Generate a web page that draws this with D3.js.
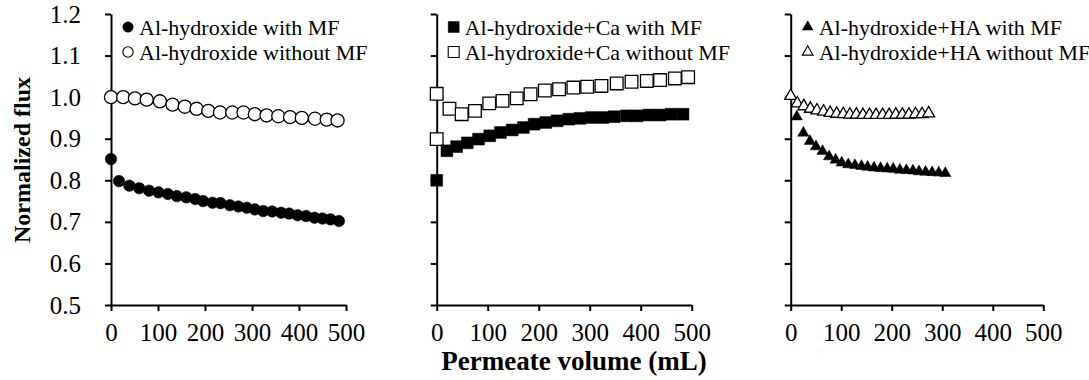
<!DOCTYPE html>
<html>
<head>
<meta charset="utf-8">
<script src="https://cdn.jsdelivr.net/npm/d3@7"></script>
<style>
  body { margin: 0; background: #fff; }
  text { font-family: "Liberation Serif", "Times New Roman", serif; fill: #000; }
</style>
</head>
<body>
<script>
var width = 1089, height = 380;

// panel 1: Al-hydroxide
var p1WithX = [0,17,39,60,81,101,121,140,160,179,196,216,233,253,271,289,306,324,343,362,379,397,415,433,450,467,485];
var p1WithY = [0.851,0.798,0.787,0.781,0.775,0.771,0.767,0.762,0.759,0.755,0.750,0.746,0.745,0.740,0.737,0.734,0.730,0.726,0.725,0.722,0.720,0.716,0.714,0.710,0.708,0.706,0.702];
var p1WithoutX = [0,26,51,76,104,131,157,182,207,232,258,282,306,331,356,381,406,434,459,482];
var p1WithoutY = [1.0,1.0,0.997,0.994,0.990,0.982,0.977,0.972,0.967,0.963,0.963,0.963,0.959,0.956,0.954,0.952,0.950,0.948,0.946,0.944];

// panel 2: Al-hydroxide+Ca
var p2WithX = [0,20,39,60,82,104,125,148,170,191,214,236,259,281,303,326,348,372,393,416,438,460,483];
var p2WithY = [0.80,0.871,0.881,0.890,0.899,0.907,0.915,0.921,0.927,0.935,0.939,0.943,0.947,0.949,0.951,0.951,0.953,0.955,0.955,0.957,0.957,0.959,0.959];
var p2WithoutX = [0,0,25,49,75,103,129,157,184,212,240,268,295,323,353,382,412,438,467,493];
var p2WithoutY = [1.008,0.899,0.972,0.959,0.967,0.985,0.991,0.997,1.007,1.016,1.019,1.023,1.025,1.027,1.033,1.037,1.039,1.041,1.045,1.048];

// panel 3: Al-hydroxide+HA
var p3WithX = [12,25,38,50,63,76,89,101,114,127,140,152,165,178,191,203,216,229,242,254,267,280,293,306];
var p3WithY = [0.953,0.914,0.894,0.881,0.870,0.857,0.849,0.842,0.838,0.836,0.834,0.832,0.830,0.829,0.828,0.827,0.825,0.824,0.823,0.821,0.820,0.819,0.818,0.817];
var p3WithoutX = [0,13,26,39,52,65,78,91,104,117,130,143,156,169,182,195,208,221,234,247,260,273];
var p3WithoutY = [1.003,0.985,0.978,0.972,0.968,0.965,0.962,0.960,0.959,0.958,0.958,0.957,0.957,0.957,0.957,0.957,0.958,0.958,0.958,0.959,0.959,0.961];

var xTicks = [0,100,200,300,400,500];
var yTicks = [0.5,0.6,0.7,0.8,0.9,1.0,1.1,1.2];

var panels = [
  {x0: 111, x1: 346, labels: true, shape: d3.symbolCircle, size: [105, 135], legendSize: 85,
   series: [{x: p1WithX, y: p1WithY, filled: true, name: "Al-hydroxide with MF"},
            {x: p1WithoutX, y: p1WithoutY, filled: false, name: "Al-hydroxide without MF"}]},
  {x0: 436.7, x1: 691.7, labels: false, shape: d3.symbolSquare, size: [140, 160], legendSize: 120,
   series: [{x: p2WithX, y: p2WithY, filled: true, name: "Al-hydroxide+Ca with MF"},
            {x: p2WithoutX, y: p2WithoutY, filled: false, name: "Al-hydroxide+Ca without MF"}]},
  {x0: 790.7, x1: 1043.3, labels: false, shape: d3.symbolTriangle, size: [55, 62], legendSize: 50,
   series: [{x: p3WithX, y: p3WithY, filled: true, name: "Al-hydroxide+HA with MF"},
            {x: p3WithoutX, y: p3WithoutY, filled: false, name: "Al-hydroxide+HA without MF"}]}
];

var svg = d3.select("body").append("svg")
    .attr("width", width)
    .attr("height", height);

var y = d3.scaleLinear().domain([0.5, 1.2]).range([305, 14]);

panels.forEach(function(p) {
  var x = d3.scaleLinear().domain([0, 500]).range([p.x0, p.x1]);

  // x axis
  var gx = svg.append("g")
      .attr("transform", "translate(0,305)")
      .call(d3.axisBottom(x).tickValues(xTicks).tickSize(6).tickSizeOuter(0).tickPadding(12));
  gx.selectAll("text").style("font-size", "25px");

  // y axis
  var gy = svg.append("g")
      .attr("transform", "translate(" + p.x0 + ",0)")
      .call(d3.axisLeft(y).tickValues(yTicks).tickSize(6).tickSizeOuter(0).tickPadding(24)
        .tickFormat(p.labels ? d3.format(".1f") : function() { return ""; }));
  gy.selectAll("text").style("font-size", "25px");

  [gx, gy].forEach(function(g) {
    g.select(".domain").attr("stroke", "#000").attr("stroke-width", 2);
    g.selectAll(".tick line").attr("stroke", "#000").attr("stroke-width", 2);
  });

  // markers: open series first so the filled sits on top where they overlap
  p.series.slice().reverse().forEach(function(s) {
    var sym = d3.symbol().type(p.shape).size(s.filled ? p.size[0] : p.size[1]);
    svg.append("g").selectAll("path")
      .data(s.x.map(function(v, i) { return [v, s.y[i]]; }))
      .join("path")
        .attr("d", sym)
        .attr("transform", function(d) { return "translate(" + x(d[0]) + "," + y(d[1]) + ")"; })
        .attr("fill", s.filled ? "#000" : "#fff")
        .attr("stroke", "#000")
        .attr("stroke-width", s.filled ? 0.5 : 1.3);
  });

  // legend
  var lg = svg.append("g").attr("transform", "translate(" + (p.x0 + 17) + ",0)");
  p.series.forEach(function(s, i) {
    var cy = 27 + i * 25;
    var sym = d3.symbol().type(p.shape).size(p.legendSize);
    lg.append("path")
      .attr("d", sym)
      .attr("transform", "translate(0," + cy + ")")
      .attr("fill", s.filled ? "#000" : "#fff")
      .attr("stroke", "#000")
      .attr("stroke-width", s.filled ? 0.5 : 1.1);
    lg.append("text")
      .attr("x", 11)
      .attr("y", cy)
      .attr("dy", "0.35em")
      .style("font-size", "22px")
      .text(s.name);
  });
});

// axis titles
svg.append("text")
  .attr("x", 574)
  .attr("y", 370)
  .attr("text-anchor", "middle")
  .style("font-size", "27px")
  .style("font-weight", "bold")
  .text("Permeate volume (mL)");

svg.append("text")
  .attr("transform", "translate(30,160) rotate(-90)")
  .attr("text-anchor", "middle")
  .style("font-size", "24px")
  .style("font-weight", "bold")
  .text("Normalized flux");
</script>
</body>
</html>
